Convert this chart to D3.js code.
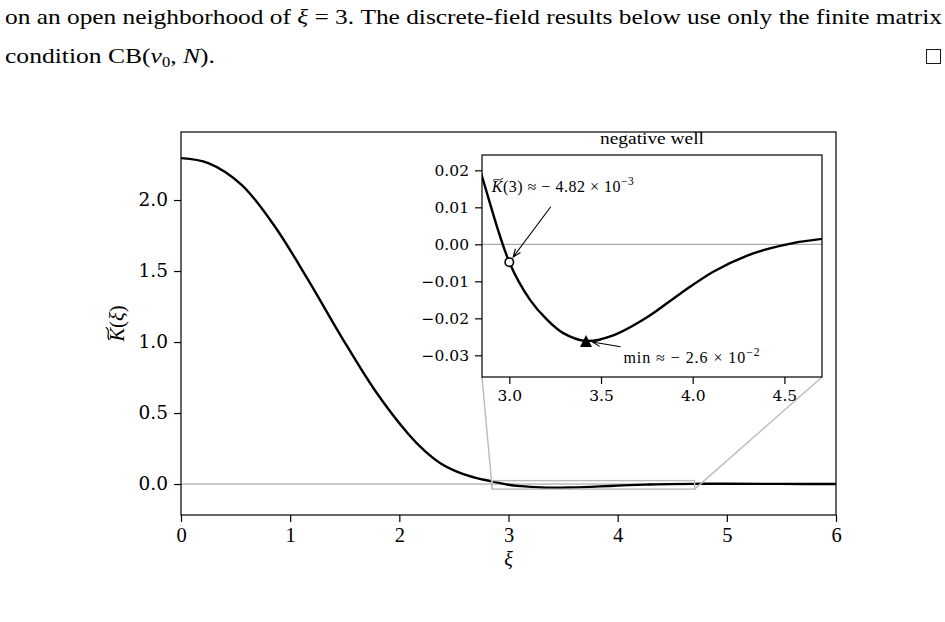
<!DOCTYPE html>
<html><head><meta charset="utf-8">
<script src="https://cdn.jsdelivr.net/npm/d3@7"></script>
<style>body{margin:0;background:#fff}svg{display:block}</style>
</head><body><svg id="c" width="945" height="622"></svg>
<script>
// ---- data ----
const xi    = [0, 0.25, 0.555, 0.861, 1.166, 1.471, 1.777, 2.082, 2.235, 2.387, 2.55, 2.7, 2.85, 3.0, 3.113, 3.204, 3.294, 3.418, 3.567, 3.749, 3.93, 4.112, 4.294, 4.476, 4.71, 5.0, 5.5, 6.0];
const kVals = [2.295, 2.26, 2.107, 1.812, 1.436, 1.035, 0.659, 0.353, 0.232, 0.141, 0.080, 0.0435, 0.0185, -0.00482, -0.0150, -0.0203, -0.0240, -0.0261, -0.0246, -0.0198, -0.0134, -0.0074, -0.0031, -0.0004, 0.0015, 0.0020, 0.0011, 0.0004];
const mainXTicks = [0, 1, 2, 3, 4, 5, 6];
const mainYTicks = [0, 0.5, 1.0, 1.5, 2.0];
const insetXTicks = [3.0, 3.5, 4.0, 4.5];
const insetYTicks = [-0.03, -0.02, -0.01, 0.00, 0.01, 0.02];
const mainXDomain = [0, 6];
const mainYDomain = [-0.218, 2.479];
const insetXDomain = [2.851, 4.705];
const insetYDomain = [-0.03586, 0.02414];
const pointK3 = [3.0, -0.00482];
const pointMin = [3.418, -0.0261];
const annot1Text = [2.904, 0.01414];
const annot1From = [3.226, 0.01016];
const annot2Text = [3.622, -0.03216];
const annot2From = [3.607, -0.02768];

const svg = d3.select('#c');
const serif = "'Liberation Serif', 'DejaVu Serif', serif";
const dv = "'DejaVu Serif', serif";

// ---- paragraph text ----
const t1 = svg.append('text').attr('x', 5).attr('y', 24).attr('font-family', serif).attr('font-size', 21.5)
  .attr('textLength', 937).attr('lengthAdjust', 'spacingAndGlyphs');
t1.append('tspan').text('on an open neighborhood of ');
t1.append('tspan').attr('font-style', 'italic').text('ξ');
t1.append('tspan').text(' = 3. The discrete-field results below use only the finite matrix');
const t2 = svg.append('text').attr('x', 5).attr('y', 63).attr('font-family', serif).attr('font-size', 21.5)
  .attr('textLength', 210).attr('lengthAdjust', 'spacingAndGlyphs');
t2.append('tspan').text('condition CB(');
t2.append('tspan').attr('font-style', 'italic').text('v');
t2.append('tspan').attr('font-size', 14).attr('dy', 4).text('0');
t2.append('tspan').attr('dy', -4).text(', ');
t2.append('tspan').attr('font-style', 'italic').text('N');
t2.append('tspan').text(').');
svg.append('rect').attr('x', 926.5).attr('y', 49.5).attr('width', 14).attr('height', 14)
  .attr('fill', 'none').attr('stroke', '#000').attr('stroke-width', 0.9);

// ---- main axes ----
const M = {l: 181, r: 836, t: 132, b: 515};
const x = d3.scaleLinear().domain(mainXDomain).range([M.l, M.r]);
const y = d3.scaleLinear().domain(mainYDomain).range([M.b, M.t]);
const pts = xi.map((v, i) => [v, kVals[i]]);
const curve = d3.curveCatmullRom.alpha(0.5);

svg.append('clipPath').attr('id', 'cm').append('rect')
  .attr('x', M.l).attr('y', M.t).attr('width', M.r - M.l).attr('height', M.b - M.t);
svg.append('line').attr('x1', M.l).attr('x2', M.r).attr('y1', y(0)).attr('y2', y(0))
  .attr('stroke', '#999').attr('stroke-width', 1);
svg.append('path').datum(pts).attr('clip-path', 'url(#cm)')
  .attr('d', d3.line().x(d => x(d[0])).y(d => y(d[1])).curve(curve))
  .attr('fill', 'none').attr('stroke', '#000').attr('stroke-width', 2.4).attr('stroke-linejoin', 'round');

const gx = svg.append('g').attr('transform', `translate(0,${M.b})`)
  .call(d3.axisBottom(x).tickValues(mainXTicks).tickFormat(d3.format('d')).tickSize(7).tickPadding(5));
gx.selectAll('text').attr('font-family', serif).attr('font-size', 20.5).attr('fill', '#000');
const gy = svg.append('g').attr('transform', `translate(${M.l},0)`)
  .call(d3.axisLeft(y).tickValues(mainYTicks).tickFormat(d3.format('.1f')).tickSize(7).tickPadding(6));
gy.selectAll('text').attr('font-family', dv).attr('font-size', 18.5).attr('fill', '#000');
[gx, gy].forEach(g => { g.select('.domain').remove(); g.selectAll('line').attr('stroke', '#000').attr('stroke-width', 1.2); });

svg.append('rect').attr('x', M.l).attr('y', M.t).attr('width', M.r - M.l).attr('height', M.b - M.t)
  .attr('fill', 'none').attr('stroke', '#000').attr('stroke-width', 1.2);

// axis labels
svg.append('text').attr('x', (M.l + M.r) / 2).attr('y', 566).attr('text-anchor', 'middle')
  .attr('font-family', serif).attr('font-style', 'italic').attr('font-size', 20).text('ξ');
const yl = svg.append('g').attr('transform', `translate(124,${(M.t + M.b) / 2}) rotate(-90)`);
const ylt = yl.append('text').attr('text-anchor', 'middle').attr('font-family', serif).attr('font-size', 20.5);
ylt.append('tspan').attr('font-style', 'italic').text('K');
ylt.append('tspan').text('(');
ylt.append('tspan').attr('font-style', 'italic').text('ξ');
ylt.append('tspan').text(')');
function addTilde(parent, textNode, size) {
  const p0 = textNode.getStartPositionOfChar(0);
  const w = textNode.getSubStringLength(0, 1);
  const x0 = p0.x + w * 0.12, x1 = p0.x + w * 1.05, yy = p0.y - size * 0.80;
  const h = size * 0.09;
  parent.append('path')
    .attr('d', `M${x0},${yy + h} C${x0 + (x1 - x0) * 0.3},${yy - h * 1.4} ${x0 + (x1 - x0) * 0.7},${yy + h * 2.4} ${x1},${yy - h}`)
    .attr('fill', 'none').attr('stroke', '#000').attr('stroke-width', size * 0.055);
}
addTilde(yl, ylt.node(), 20.5);

// ---- indicator rectangle and connectors ----
const rx0 = x(insetXDomain[0]), rx1 = x(insetXDomain[1]);
const ry0 = y(insetYDomain[0]), ry1 = y(insetYDomain[1]);
const I = {l: 482, r: 822, t: 155, b: 377};
svg.append('rect').attr('x', rx0).attr('y', ry1).attr('width', rx1 - rx0).attr('height', ry0 - ry1)
  .attr('fill', 'none').attr('stroke', '#bbb').attr('stroke-width', 1.4);
svg.append('line').attr('x1', rx0).attr('y1', ry0).attr('x2', I.l).attr('y2', I.b).attr('stroke', '#bbb').attr('stroke-width', 1.4);
svg.append('line').attr('x1', rx1).attr('y1', ry0).attr('x2', I.r).attr('y2', I.b).attr('stroke', '#bbb').attr('stroke-width', 1.4);

// ---- inset ----
const xs = d3.scaleLinear().domain(insetXDomain).range([I.l, I.r]);
const ys = d3.scaleLinear().domain(insetYDomain).range([I.b, I.t]);
const ig = svg.append('g');
ig.append('rect').attr('x', I.l).attr('y', I.t).attr('width', I.r - I.l).attr('height', I.b - I.t).attr('fill', '#fff');
svg.append('clipPath').attr('id', 'ci').append('rect')
  .attr('x', I.l).attr('y', I.t).attr('width', I.r - I.l).attr('height', I.b - I.t);
ig.append('line').attr('x1', I.l).attr('x2', I.r).attr('y1', ys(0)).attr('y2', ys(0))
  .attr('stroke', '#999').attr('stroke-width', 1);
ig.append('path').datum(pts).attr('clip-path', 'url(#ci)')
  .attr('d', d3.line().x(d => xs(d[0])).y(d => ys(d[1])).curve(curve))
  .attr('fill', 'none').attr('stroke', '#000').attr('stroke-width', 2.4).attr('stroke-linejoin', 'round');

const igx = ig.append('g').attr('transform', `translate(0,${I.b})`)
  .call(d3.axisBottom(xs).tickValues(insetXTicks).tickFormat(d3.format('.1f')).tickSize(7).tickPadding(6));
const igy = ig.append('g').attr('transform', `translate(${I.l},0)`)
  .call(d3.axisLeft(ys).tickValues(insetYTicks).tickFormat(d => d3.format('.2f')(d).replace('-', '\u2212')).tickSize(7).tickPadding(6));
[igx, igy].forEach(g => {
  g.select('.domain').remove();
  g.selectAll('line').attr('stroke', '#000').attr('stroke-width', 1.2);
  g.selectAll('text').attr('font-family', dv).attr('font-size', 15.5).attr('fill', '#000');
});
ig.append('rect').attr('x', I.l).attr('y', I.t).attr('width', I.r - I.l).attr('height', I.b - I.t)
  .attr('fill', 'none').attr('stroke', '#000').attr('stroke-width', 1.2);

ig.append('text').attr('x', (I.l + I.r) / 2).attr('y', 144).attr('text-anchor', 'middle')
  .attr('font-family', serif).attr('font-size', 16.5).attr('textLength', 104).attr('lengthAdjust', 'spacingAndGlyphs')
  .text('negative well');

// arrows
function arrow(p0, p1) {
  const [x0, y0] = [xs(p0[0]), ys(p0[1])];
  const [x1, y1] = [xs(p1[0]), ys(p1[1])];
  const ang = Math.atan2(y1 - y0, x1 - x0);
  const L = Math.hypot(x1 - x0, y1 - y0);
  const ex = x0 + Math.cos(ang) * (L - 6.5), ey = y0 + Math.sin(ang) * (L - 6.5);
  const hl = 8.5, hw = 0.38;
  ig.append('path').attr('d',
    `M${x0},${y0}L${ex},${ey}M${ex - hl * Math.cos(ang - hw)},${ey - hl * Math.sin(ang - hw)}L${ex},${ey}L${ex - hl * Math.cos(ang + hw)},${ey - hl * Math.sin(ang + hw)}`)
    .attr('fill', 'none').attr('stroke', '#000').attr('stroke-width', 1.1);
}
arrow(annot1From, pointK3);
arrow(annot2From, pointMin);

// markers
ig.append('circle').attr('cx', xs(pointK3[0])).attr('cy', ys(pointK3[1])).attr('r', 4.2)
  .attr('fill', '#fff').attr('stroke', '#000').attr('stroke-width', 1.6);
{
  const cx = xs(pointMin[0]), cy = ys(pointMin[1]), s = 6;
  ig.append('path').attr('d', `M${cx},${cy - s}L${cx + s},${cy + s}L${cx - s},${cy + s}Z`).attr('fill', '#000');
}

// annotation texts
const a1 = ig.append('text').attr('x', xs(annot1Text[0])).attr('y', ys(annot1Text[1]))
  .attr('font-family', serif).attr('font-size', 16).attr('textLength', 142).attr('lengthAdjust', 'spacing');
a1.append('tspan').attr('font-style', 'italic').text('K');
a1.append('tspan').text('(3) ≈ − 4.82 × 10');
a1.append('tspan').attr('font-size', 11.5).attr('dy', -7).text('−3');
addTilde(ig, a1.node(), 16);

const a2 = ig.append('text').attr('x', xs(annot2Text[0])).attr('y', ys(annot2Text[1]))
  .attr('font-family', serif).attr('font-size', 16).attr('textLength', 136).attr('lengthAdjust', 'spacing');
a2.append('tspan').text('min  ≈ − 2.6 × 10');
a2.append('tspan').attr('font-size', 11.5).attr('dy', -7).text('−2');
</script></body></html>
